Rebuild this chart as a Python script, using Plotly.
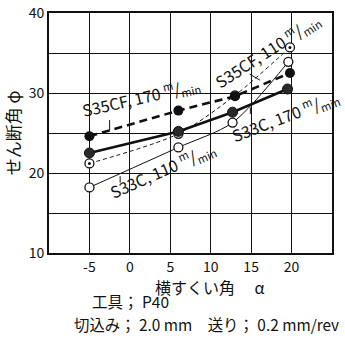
import plotly.graph_objects as go

# Rake angle (deg) and shear angle (deg) for each work material / cutting speed
alpha_s35cf_170 = [-5, 6, 13, 19.8]
phi_s35cf_170 = [24.6, 27.8, 29.6, 32.5]

alpha_s35cf_110 = [-5, 6, 13, 19.8]
phi_s35cf_110 = [21.2, 24.9, 29.7, 35.7]

alpha_s33c_170 = [-5, 6, 12.7, 19.5]
phi_s33c_170 = [22.5, 25.2, 27.6, 30.5]

alpha_s33c_110 = [-5, 6, 12.7, 19.6]
phi_s33c_110 = [18.2, 23.2, 26.3, 33.9]

x_ticks = [-10, -5, 0, 5, 10, 15, 20, 25]
x_ticktext = ["", "-5", "0", "5", "10", "15", "20", ""]
y_ticks = [10, 15, 20, 25, 30, 35, 40]
y_ticktext = ["10", "", "20", "", "30", "", "40"]

FONT = "Noto Sans CJK JP"
INK = "#111111"

fig = go.Figure()

fig.add_trace(go.Scatter(
    x=alpha_s33c_110, y=phi_s33c_110, mode="lines+markers",
    line=dict(color=INK, width=1, shape="spline", smoothing=0.8),
    marker=dict(symbol="circle", size=9, color="white", line=dict(color=INK, width=1.3)),
))
fig.add_trace(go.Scatter(
    x=alpha_s35cf_110, y=phi_s35cf_110, mode="lines+markers",
    line=dict(color=INK, width=1, dash="4px,3px", shape="spline", smoothing=0.8),
    marker=dict(symbol="circle", size=9, color="white", line=dict(color=INK, width=1.3)),
))
fig.add_trace(go.Scatter(
    x=alpha_s35cf_110, y=phi_s35cf_110, mode="markers",
    marker=dict(symbol="circle", size=3, color=INK),
))
fig.add_trace(go.Scatter(
    x=alpha_s33c_170, y=phi_s33c_170, mode="lines+markers",
    line=dict(color=INK, width=2.6),
    marker=dict(symbol="circle", size=10, color="#2a2a2a", line=dict(color=INK, width=1)),
))
fig.add_trace(go.Scatter(
    x=alpha_s35cf_170, y=phi_s35cf_170, mode="lines+markers",
    line=dict(color=INK, width=2.6, dash="8px,5px"),
    marker=dict(symbol="circle", size=10, color=INK),
))

label_font = dict(family=FONT, size=16, color=INK)
fig.add_annotation(x=1.4, y=29.5, text="S35CF, 170 <sup>m</sup>/<sub>min</sub>",
                   textangle=-13, showarrow=False, font=label_font)
fig.add_annotation(x=16.9, y=35.3, text="S35CF, 110 <sup>m</sup>/<sub>min</sub>",
                   textangle=-33, showarrow=False, font=label_font)
fig.add_annotation(x=19.2, y=27.1, text="S33C, 170 <sup>m</sup>/<sub>min</sub>",
                   textangle=-21, showarrow=False, font=label_font)
fig.add_annotation(x=4.0, y=20.4, text="S33C, 110 <sup>m</sup>/<sub>min</sub>",
                   textangle=-24, showarrow=False, font=label_font)

# short leader ticks from labels to curves
leader = dict(showarrow=True, arrowhead=0, arrowwidth=1, arrowcolor=INK, text="")
fig.add_annotation(x=-2.5, y=25.3, ax=0, ay=-12, **leader)
fig.add_annotation(x=16.1, y=31.6, ax=-12, ay=-7, **leader)
fig.add_annotation(x=14.9, y=28.2, ax=0, ay=8, **leader)
fig.add_annotation(x=-1.2, y=19.6, ax=0, ay=8, **leader)

fig.add_annotation(xref="paper", yref="paper", x=0.57, y=-0.14, yanchor="middle",
                   text="横すくい角　 α", showarrow=False,
                   font=dict(family=FONT, size=16, color=INK))
fig.add_annotation(xref="paper", yref="paper", x=0.145, y=-0.2, xanchor="left",
                   yanchor="middle", text="工具； P40", showarrow=False,
                   font=dict(family=FONT, size=15.5, color=INK))
fig.add_annotation(xref="paper", yref="paper", x=0.08, y=-0.297, xanchor="left",
                   yanchor="middle", text="切込み； 2.0 mm　送り； 0.2 mm/rev", showarrow=False,
                   font=dict(family=FONT, size=15.4, color=INK))

axis_common = dict(
    showgrid=True, gridcolor=INK, gridwidth=1,
    showline=True, linecolor=INK, linewidth=2, mirror=True,
    ticks="", zeroline=False, automargin=False,
    tickfont=dict(family=FONT, size=14, color=INK),
)
fig.update_xaxes(range=[-10, 25], tickvals=x_ticks, ticktext=x_ticktext, **axis_common)
fig.update_yaxes(range=[10, 40], tickvals=y_ticks, ticktext=y_ticktext,
                 title=dict(text="せん断角 φ", font=dict(family=FONT, size=17, color=INK), standoff=8),
                 **axis_common)

fig.update_layout(
    width=345, height=345,
    margin=dict(l=49, r=13, t=13, b=92),
    paper_bgcolor="white", plot_bgcolor="white",
    showlegend=False,
)

fig.write_html("out.html")
